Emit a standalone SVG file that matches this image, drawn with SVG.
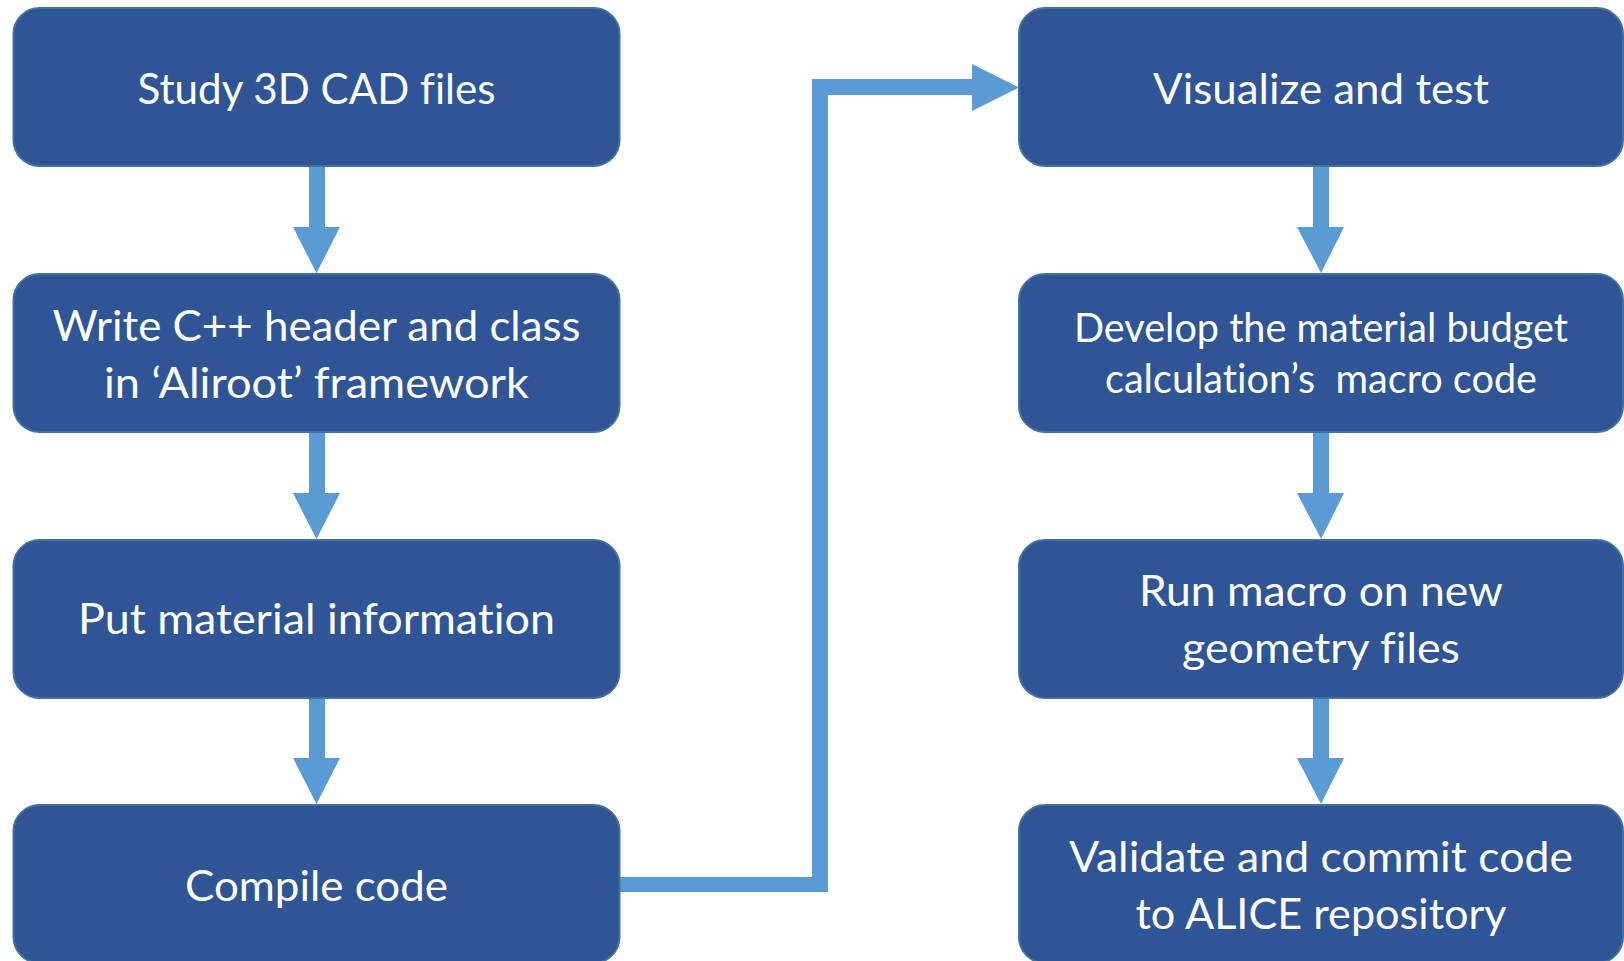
<svg xmlns="http://www.w3.org/2000/svg" width="1624" height="961" viewBox="0 0 1624 961">
<style>
.box{fill:#2F5597;stroke:#41719C;stroke-width:2}
.arr{fill:#5B9BD5}
.t{fill:#ffffff;font-family:Lato,"Open Sans","Liberation Sans",sans-serif;font-size:43px;text-anchor:middle;white-space:pre;font-variant-ligatures:none;font-feature-settings:"liga" 0}
.s{font-size:40px}
</style>
<rect width="1624" height="961" fill="#ffffff"/>
<g id="connectors">
<polygon class="arr" points="309,166 325,166 325,227 340,227 316.5,273 293,227 309,227"/>
<polygon class="arr" points="309,432 325,432 325,493 340,493 316.5,539 293,493 309,493"/>
<polygon class="arr" points="309,698 325,698 325,758 340,758 316.5,804 293,758 309,758"/>
<polygon class="arr" points="1313,166 1329,166 1329,227 1344,227 1321,273 1297,227 1313,227"/>
<polygon class="arr" points="1313,432 1329,432 1329,493 1344,493 1321,539 1297,493 1313,493"/>
<polygon class="arr" points="1313,698 1329,698 1329,758 1344,758 1321,804 1297,758 1313,758"/>
<polygon class="arr" points="619,877 812,877 812,79 972,79 972,64 1019,87.5 972,111 972,95 828,95 828,892 619,892"/>
</g>
<g id="n1"><rect class="box" x="13.5" y="8" width="606" height="158" rx="26"/><text class="t" x="316.5" y="104" textLength="358" lengthAdjust="spacingAndGlyphs">Study 3D CAD files</text></g>
<g id="n2"><rect class="box" x="13.5" y="274" width="606" height="158" rx="26"/><text class="t" x="316.5" y="341" textLength="528" lengthAdjust="spacingAndGlyphs">Write C++ header and class</text><text class="t" x="316.5" y="398" textLength="425" lengthAdjust="spacingAndGlyphs">in ‘Aliroot’ framework</text></g>
<g id="n3"><rect class="box" x="13.5" y="540" width="606" height="158" rx="26"/><text class="t" x="316.5" y="634" textLength="477" lengthAdjust="spacingAndGlyphs">Put material information</text></g>
<g id="n4"><rect class="box" x="13.5" y="805" width="606" height="158" rx="26"/><text class="t" x="316.5" y="901" textLength="263" lengthAdjust="spacingAndGlyphs">Compile code</text></g>
<g id="n5"><rect class="box" x="1019" y="8" width="604" height="158" rx="26"/><text class="t" x="1321" y="104" textLength="336" lengthAdjust="spacingAndGlyphs">Visualize and test</text></g>
<g id="n6"><rect class="box" x="1019" y="274" width="604" height="158" rx="26"/><text class="t s" x="1321" y="342" textLength="494" lengthAdjust="spacingAndGlyphs">Develop the material budget</text><text class="t s" x="1321" y="393" textLength="432" lengthAdjust="spacingAndGlyphs">calculation’s  macro code</text></g>
<g id="n7"><rect class="box" x="1019" y="540" width="604" height="158" rx="26"/><text class="t" x="1321" y="606" textLength="364" lengthAdjust="spacingAndGlyphs">Run macro on new</text><text class="t" x="1321" y="663" textLength="278" lengthAdjust="spacingAndGlyphs">geometry files</text></g>
<g id="n8"><rect class="box" x="1019" y="805" width="604" height="158" rx="26"/><text class="t" x="1321" y="872" textLength="504" lengthAdjust="spacingAndGlyphs">Validate and commit code</text><text class="t" x="1321" y="929" textLength="371" lengthAdjust="spacingAndGlyphs">to ALICE repository</text></g>
</svg>
